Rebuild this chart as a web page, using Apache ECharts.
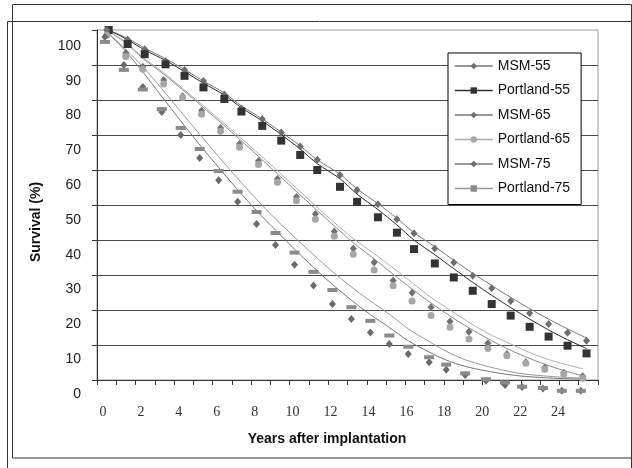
<!DOCTYPE html>
<html><head><meta charset="utf-8">
<script src="https://cdn.jsdelivr.net/npm/echarts@6/dist/echarts.min.js"></script>
<style>html,body{margin:0;padding:0;background:#fff}#c{width:632px;height:468px}</style>
</head><body><div id="c"></div>
<script>
// tick categories (one per year slot on the x axis)
const categories = ['0','1','2','3','4','5','6','7','8','9','10','11','12','13','14','15','16','17','18','19','20','21','22','23','24','25'];
// last labelled year on the x axis
const lastXLabel = 24;

const years55 = [0.3,1.3,2.2,3.3,4.3,5.3,6.4,7.3,8.4,9.4,10.4,11.3,12.5,13.4,14.5,15.5,16.4,17.5,18.5,19.5,20.5,21.5,22.5,23.5,24.5,25.5];
const years65 = [0.2,1.2,2.1,3.2,4.2,5.2,6.2,7.2,8.2,9.2,10.2,11.2,12.2,13.2,14.3,15.3,16.3,17.3,18.3,19.3,20.3,21.3,22.3,23.3,24.3,25.3];
const years75 = [0.1,1.1,2.1,3.1,4.1,5.1,6.1,7.1,8.1,9.1,10.1,11.1,12.1,13.1,14.1,15.1,16.1,17.2,18.1,19.1,20.2,21.2,22.1,23.2,24.2,25.2];

// observed survival (%)
const msm55 = [100,97.3,94.5,91.1,88.6,85.4,81.6,77.6,74.6,70.7,66.7,62.9,58.6,54.3,50.2,45.9,41.9,37.6,33.6,29.8,26.2,22.6,19.1,16.0,13.5,11.2];
const portland55 = [100,96.0,93.1,90.2,86.9,83.6,80.3,76.7,72.6,68.4,64.3,60.0,55.2,50.9,46.5,42.1,37.4,33.3,29.3,25.5,21.7,18.4,15.2,12.4,9.8,7.6];
const msm65 = [100,93.4,89.5,85.7,81.1,76.9,72.0,67.4,62.6,57.4,52.3,47.4,42.4,37.6,33.6,28.4,24.9,20.8,16.7,13.8,10.5,7.4,5.1,3.6,2.1,1.1];
const portland65 = [98.5,92.4,88.8,84.6,80.7,75.9,71.1,66.5,61.6,56.5,51.2,45.9,41.1,35.9,31.4,26.9,22.6,18.4,15.1,11.7,9.0,6.9,4.8,3.1,1.7,0.5];
const msm75 = [98,90.0,83.7,76.6,70.0,63.4,57.1,50.9,44.6,38.6,32.9,27.0,21.7,17.4,13.6,10.3,7.4,5.1,2.9,1.4,-0.2,-1.4,-2.0,-2.4,-3.1,-3.1];
const portland75 = [96.6,88.6,83.0,77.4,72.0,66.0,59.7,53.8,48.0,42.0,36.4,30.9,25.7,20.8,16.9,12.7,9.5,6.5,4.4,1.9,0.2,-0.7,-1.9,-2.3,-3.1,-3.1];

// fitted curves (%)
const fitMsm55 = [100,97.6,94.8,91.8,88.7,85.4,82.0,78.3,74.6,70.8,66.9,62.9,58.8,54.6,50.4,46.2,42.1,38.1,34.2,30.5,27.0,23.6,20.4,17.4,14.6,12.0];
const fitPortland55 = [100,97.2,94.3,91.3,88.1,84.8,81.4,77.8,74.0,70.1,66.0,61.8,57.5,53.1,48.7,44.3,40.0,35.8,31.8,27.9,24.2,20.7,17.4,14.3,11.5,9.0];
const fitMsm65 = [100,96.3,91.9,87.4,82.9,78.3,73.6,68.8,63.9,58.9,53.9,48.9,44.0,39.2,34.6,30.2,26.0,22.0,18.3,14.9,11.8,9.0,6.6,4.5,2.7,1.2];
const fitPortland65 = [100,96.5,92.2,87.8,83.3,78.8,74.2,69.5,64.7,59.8,54.8,49.8,45.0,40.4,36.1,32.0,27.8,23.6,20.0,16.5,13.3,10.8,8.3,6.2,4.6,3.2];
const fitMsm75 = [100,94.5,88.0,81.0,74.0,67.2,60.7,54.4,48.4,42.8,37.4,32.2,27.3,22.8,18.7,15.0,11.2,8.0,5.7,3.9,2.6,1.7,1.1,0.7,0.4,0.3];
const fitPortland75 = [100,95.0,89.5,83.2,76.7,70.2,63.8,57.6,51.6,46.0,40.8,35.8,31.0,26.6,22.6,18.8,14.6,11.0,8.2,5.8,4.0,2.7,1.8,1.2,0.8,0.6];

const pairs = (xs, ys) => xs.map((x, i) => [x, ys[i]]);

const markerDefs = [
  {name:'MSM-55', x:years55, y:msm55, symbol:'diamond', size:[7,8], color:'#6e6e6e', line:'#777777'},
  {name:'Portland-55', x:years55, y:portland55, symbol:'rect', size:8, color:'#333333', line:'#333333'},
  {name:'MSM-65', x:years65, y:msm65, symbol:'diamond', size:[7,8], color:'#707070', line:'#777777'},
  {name:'Portland-65', x:years65, y:portland65, symbol:'circle', size:7, color:'#a6a6a6', line:'#aaaaaa'},
  {name:'MSM-75', x:years75, y:msm75, symbol:'diamond', size:[7,8], color:'#6a6a6a', line:'#777777'},
  {name:'Portland-75', x:years75, y:portland75, symbol:'rect', size:[10,4], color:'#8a8a8a', line:'#999999'}
];
const fitDefs = [
  {x:years55, y:fitMsm55, color:'#7a7a7a'},
  {x:years55, y:fitPortland55, color:'#2a2a2a'},
  {x:years65, y:fitMsm65, color:'#8a8a8a'},
  {x:years65, y:fitPortland65, color:'#b0b0b0'},
  {x:years75, y:fitMsm75, color:'#777777'},
  {x:years75, y:fitPortland75, color:'#999999'}
];

const series = [];
fitDefs.forEach((f, i) => {
  series.push({
    name: markerDefs[i].name + ' fit', type:'line', xAxisIndex:1, yAxisIndex:1,
    data: pairs(f.x, f.y), smooth:0.3, showSymbol:false, symbol:'none', clip:false,
    lineStyle:{color:f.color, width:1}, silent:true, z:2
  });
});
markerDefs.forEach(m => {
  series.push({
    name:m.name, type:'line', xAxisIndex:1, yAxisIndex:1,
    data: pairs(m.x, m.y), symbol:m.symbol, symbolSize:m.size, showSymbol:true, clip:false,
    itemStyle:{color:m.color}, lineStyle:{color:m.line, width:1, opacity:0}, silent:true, z:3
  });
});

const chart = echarts.init(document.getElementById('c'), null, {renderer:'canvas'});
chart.setOption({
  animation:false,
  backgroundColor:'#ffffff',
  grid:[
    {left:97, top:30, width:501, height:350, show:true, borderColor:'#9a9a9a', borderWidth:1, backgroundColor:'transparent'},
    {left:103, top:30, width:493, height:350},
    {left:97, top:46, width:501, height:348}
  ],
  xAxis:[
    {gridIndex:0, type:'category', data:categories, boundaryGap:true,
     axisLine:{show:true, lineStyle:{color:'#333', width:1}},
     axisTick:{show:true, interval:0, length:5, lineStyle:{color:'#333'}},
     axisLabel:{show:false}, splitLine:{show:false}},
    {gridIndex:1, type:'value', min:0, max:26, interval:2,
     axisLine:{show:false}, axisTick:{show:false}, splitLine:{show:false},
     axisLabel:{show:true, margin:25, fontFamily:'Liberation Serif', fontSize:14, color:'#333',
       formatter: v => (v <= lastXLabel ? String(v) : '')}},
    {gridIndex:2, type:'value', min:0, max:26, show:false}
  ],
  yAxis:[
    {gridIndex:0, type:'value', min:0, max:100, interval:10,
     axisLine:{show:true, lineStyle:{color:'#333', width:1}},
     axisTick:{show:true, length:5, lineStyle:{color:'#333'}},
     axisLabel:{show:false},
     splitLine:{show:true, showMaxLine:false, lineStyle:{color:'#4a4a4a', width:1}}},
    {gridIndex:1, type:'value', min:0, max:100, show:false},
    {gridIndex:2, type:'value', min:0, max:100, interval:10,
     axisLine:{show:false}, axisTick:{show:false}, splitLine:{show:false},
     axisLabel:{show:true, margin:16, fontFamily:'Liberation Sans', fontSize:14, color:'#222'}}
  ],
  legend:{
    orient:'vertical', left:448, top:53,
    itemWidth:38, itemHeight:8, itemGap:10.5,
    padding:[6,11,9,6],
    borderColor:'#000', borderWidth:1, backgroundColor:'#fff',
    textStyle:{fontFamily:'Liberation Sans', fontSize:14, color:'#111'},
    selectedMode:false,
    data: markerDefs.map(m => ({
      name:m.name,
      itemStyle:{color:m.color},
      lineStyle:{color:m.line, width:1.5, opacity:1, type:'solid'}
    }))
  },
  graphic:[
    {type:'rect', shape:{x:12.5, y:4.5, width:619, height:453.5}, style:{fill:'none', stroke:'#333', lineWidth:1}, silent:true, z:-10},
    {type:'rect', shape:{x:7.5, y:21.5, width:624, height:470}, style:{fill:'none', stroke:'#333', lineWidth:1}, silent:true, z:-10},
    {type:'text', x:36, y:222, rotation:Math.PI/2,
     style:{text:'Survival (%)', fontFamily:'Liberation Sans', fontWeight:'bold', fontSize:14, fill:'#111', align:'center', verticalAlign:'middle'}, silent:true},
    {type:'text', x:327, y:439,
     style:{text:'Years after implantation', fontFamily:'Liberation Sans', fontWeight:'bold', fontSize:14, fill:'#111', align:'center', verticalAlign:'middle'}, silent:true}
  ],
  series: series
});
</script></body></html>
